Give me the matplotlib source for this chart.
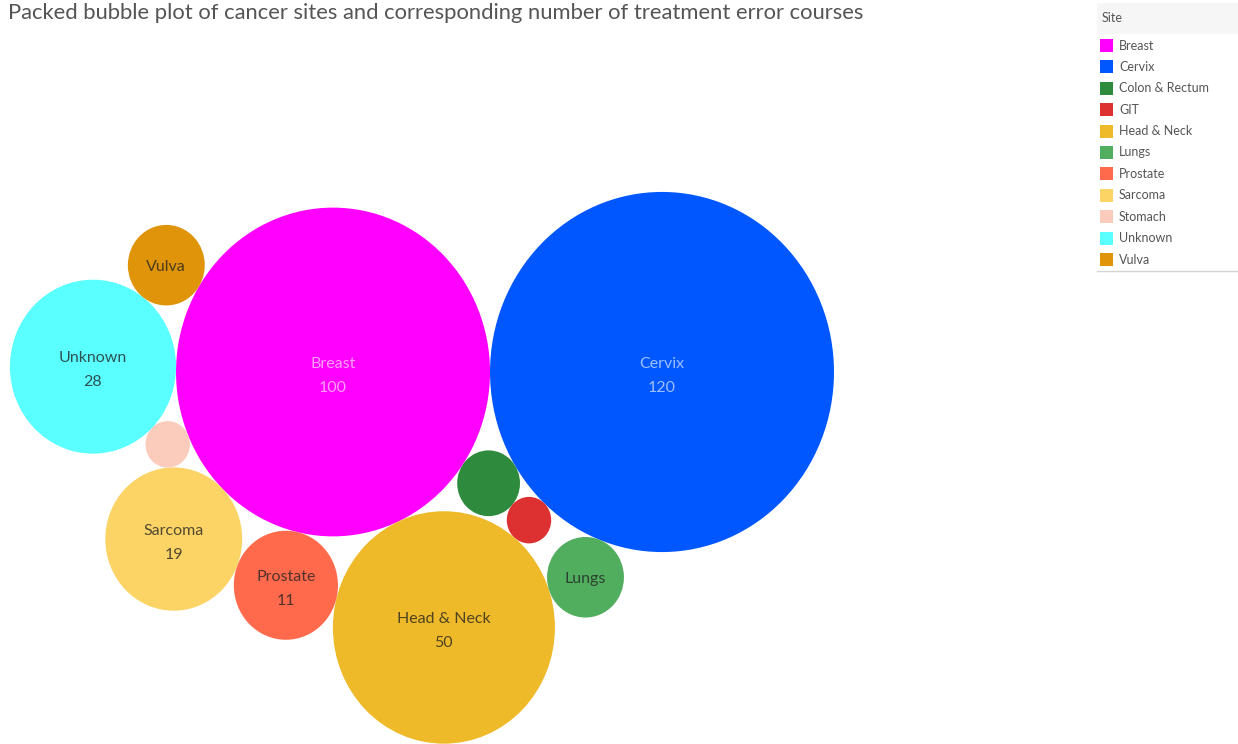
import numpy as np
import matplotlib
matplotlib.use("Agg")
import matplotlib.pyplot as plt
from matplotlib.patches import Circle, Rectangle
from matplotlib.lines import Line2D

plt.rcParams['font.family'] = ['Lato', 'DejaVu Sans']

# ---- data -------------------------------------------------------------
sites = ["Breast", "Cervix", "Colon & Rectum", "GIT", "Head & Neck", "Lungs",
         "Prostate", "Sarcoma", "Stomach", "Unknown", "Vulva"]
courses = [100, 120, 4, 2, 50, 6, 11, 19, 2, 28, 6]
colors = ["#FF00FF", "#0057FF", "#2E8B3E", "#DD3030", "#EFBA29", "#52AE5F",
          "#FF6A4C", "#FCD466", "#FBCBBC", "#5AFFFF", "#E0940A"]
# which label lines each bubble shows: 2 = name + value, 1 = name, 0 = none
label_lines = [2, 2, 0, 0, 2, 1, 2, 2, 0, 2, 1]
light_text = ["Breast", "Cervix"]

title = "Packed bubble plot of cancer sites and corresponding number of treatment error courses"

# ---- layout ----------------------------------------------------------------
W, H, DPI = 1238, 744, 100
STRETCH = 1.047          # vertical stretch of the rendered view
SCALE = 15.7             # radius per sqrt(count)

val = dict(zip(sites, courses))
rad = {s: SCALE * np.sqrt(v) for s, v in val.items()}


def tangent(a, b, r):
    """Centre of a circle of radius r touching circles a and b (front-chain side)."""
    (pa, ra), (pb, rb) = a, b
    d_vec = pb - pa
    d = np.hypot(*d_vec)
    da, db = ra + r, rb + r
    x = (da ** 2 - db ** 2 + d ** 2) / (2 * d)
    h = np.sqrt(max(da ** 2 - x ** 2, 0.0))
    u = d_vec / d
    perp = np.array([-u[1], u[0]])
    return pa + x * u + h * perp


# packing order: each new bubble touches two already placed ones
anchor = np.array([662.0, 372.0 / STRETCH])
pos = {"Cervix": anchor}
pos["Breast"] = anchor + np.array([-(rad["Cervix"] + rad["Breast"]), 0.0])
chain = [("Colon & Rectum", "Breast", "Cervix"),
         ("GIT", "Colon & Rectum", "Cervix"),
         ("Head & Neck", "Breast", "GIT"),
         ("Lungs", "Head & Neck", "Cervix"),
         ("Prostate", "Breast", "Head & Neck"),
         ("Sarcoma", "Breast", "Prostate"),
         ("Stomach", "Breast", "Sarcoma"),
         ("Unknown", "Breast", "Stomach"),
         ("Vulva", "Breast", "Unknown")]
for new, a, b in chain:
    pos[new] = tangent((pos[a], rad[a]), (pos[b], rad[b]), rad[new])

# ---- figure ---------------------------------------------------------------
fig = plt.figure(figsize=(W / DPI, H / DPI), dpi=DPI)
fig.patch.set_facecolor("white")

ax = fig.add_axes([0, 0, 1, 1])
ax.set_xlim(0, W)
ax.set_ylim(H / STRETCH, 0)
ax.set_aspect("auto")
ax.axis("off")

for s, c, nl in zip(sites, colors, label_lines):
    ax.add_patch(Circle(pos[s], rad[s], facecolor=c, edgecolor="none", zorder=2))
    if nl == 0:
        continue
    if s in light_text:
        tc, ta = "white", 0.62
    else:
        tc, ta = "#222222", 0.78
    kw = dict(ha="center", va="center", fontsize=11.5, color=tc, alpha=ta,
              textcoords="offset pixels", zorder=3)
    if nl == 2:
        ax.annotate(s, pos[s], xytext=(0, 8.5), **kw)
        ax.annotate(str(val[s]), pos[s], xytext=(0, -15.5), **kw)
    else:
        ax.annotate(s, pos[s], xytext=(0, -2), **kw)

# overlay in pixel coordinates for title and legend
ov = fig.add_axes([0, 0, 1, 1])
ov.set_xlim(0, W)
ov.set_ylim(H, 0)
ov.axis("off")
ov.patch.set_alpha(0)

ov.text(8, 13, title, fontsize=15.8, color="#555555", ha="left", va="center")

# legend
ov.add_patch(Rectangle((1097, 3), W - 1097, 31, facecolor="#F6F6F6",
                       edgecolor="none"))
ov.text(1102, 18, "Site", fontsize=9, color="#555555", ha="left", va="center")
row0, step = 45.5, 21.4
for i, (s, c) in enumerate(zip(sites, colors)):
    y = row0 + i * step
    ov.add_patch(Rectangle((1100, y - 6.5), 13, 13, facecolor=c, edgecolor="none"))
    ov.text(1119, y, s, fontsize=9, color="#555555", ha="left", va="center")
ov.add_line(Line2D([1097, W], [271, 271], color="#D4D4D4", lw=1))

fig.savefig("out.png", dpi=DPI, facecolor="white")
